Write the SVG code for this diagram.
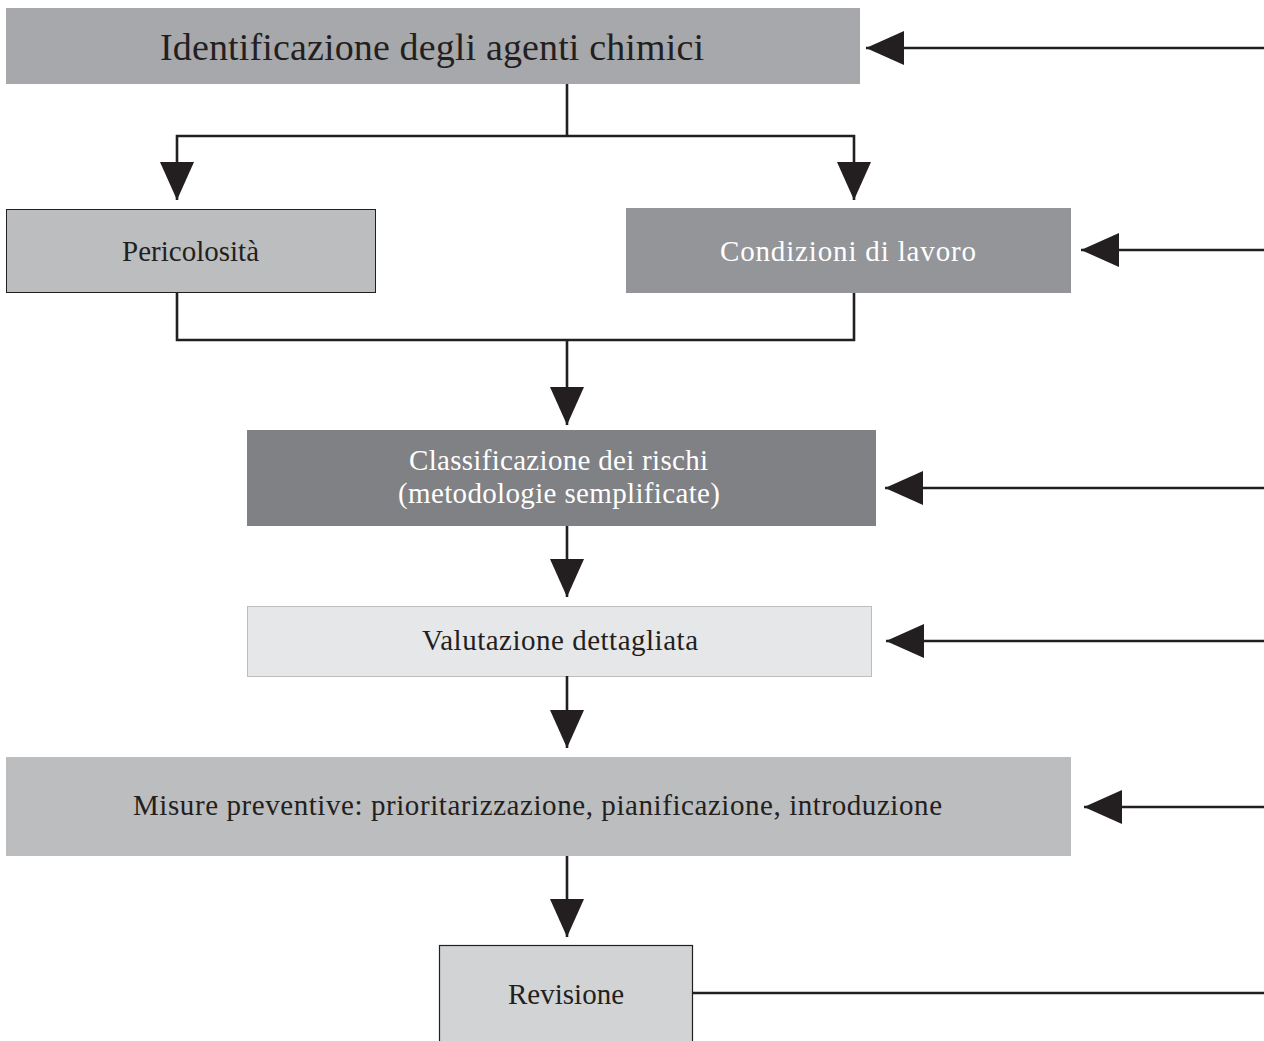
<svg xmlns="http://www.w3.org/2000/svg" width="1264" height="1041" viewBox="0 0 1264 1041">
<style>
.t{font-family:"Liberation Serif","Times New Roman",serif;text-anchor:middle;fill:#231f20;font-size:29px}
.w{fill:#ffffff}
.c{stroke:#231f20;stroke-width:2.6;fill:none}
</style>
<defs>
<marker id="ah" markerUnits="userSpaceOnUse" markerWidth="38" markerHeight="34" refX="38" refY="17" orient="auto" viewBox="0 0 38 34">
<path d="M0,0 L38,17 L0,34 Z" fill="#231f20"/>
</marker>
</defs>
<rect width="1264" height="1041" fill="#ffffff"/>
<g id="n-identificazione">
<rect x="6" y="8" width="854" height="76" fill="#a7a8ab"/>
<text class="t" x="432" y="60" style="font-size:38px" textLength="544">Identificazione degli agenti chimici</text>
</g>
<g id="n-pericolosita">
<rect x="6.5" y="209.5" width="369" height="83" fill="#bcbdbf" stroke="#231f20" stroke-width="1"/>
<text class="t" x="190.5" y="261" textLength="137">Pericolosità</text>
</g>
<g id="n-condizioni">
<rect x="626" y="208" width="445" height="85" fill="#939598"/>
<text class="t w" x="848" y="261" textLength="256">Condizioni di lavoro</text>
</g>
<g id="n-classificazione">
<rect x="247" y="430" width="629" height="96" fill="#808184"/>
<text class="t w" x="558.5" y="470" textLength="299">Classificazione dei rischi</text>
<text class="t w" x="559" y="503" textLength="322">(metodologie semplificate)</text>
</g>
<g id="n-valutazione">
<rect x="247.5" y="606.5" width="624" height="70" fill="#e6e7e8" stroke="#bcbdbf" stroke-width="1"/>
<text class="t" x="560" y="650" textLength="276">Valutazione dettagliata</text>
</g>
<g id="n-misure">
<rect x="6" y="757" width="1065" height="99" fill="#bcbdbf"/>
<text class="t" x="537.5" y="815" textLength="809">Misure preventive: prioritarizzazione, pianificazione, introduzione</text>
</g>
<g id="n-revisione">
<rect x="439.5" y="945.5" width="253" height="100" fill="#d1d3d4" stroke="#231f20" stroke-width="1.2"/>
<text class="t" x="566" y="1004" textLength="116">Revisione</text>
</g>
<g id="connectors">
<path class="c" d="M1264,48 H866" marker-end="url(#ah)"/>
<path class="c" d="M567,84 V136"/>
<path class="c" d="M567,136 H177 V200" marker-end="url(#ah)"/>
<path class="c" d="M567,136 H854 V200" marker-end="url(#ah)"/>
<path class="c" d="M1264,250 H1081" marker-end="url(#ah)"/>
<path class="c" d="M177,293 V340 H854 V293"/>
<path class="c" d="M567,340 V425" marker-end="url(#ah)"/>
<path class="c" d="M1264,488 H885" marker-end="url(#ah)"/>
<path class="c" d="M567,526 V597" marker-end="url(#ah)"/>
<path class="c" d="M1264,641 H886" marker-end="url(#ah)"/>
<path class="c" d="M567,676 V748" marker-end="url(#ah)"/>
<path class="c" d="M1264,807 H1084" marker-end="url(#ah)"/>
<path class="c" d="M567,856 V937" marker-end="url(#ah)"/>
<path class="c" d="M693,993 H1264"/>
</g>
</svg>
